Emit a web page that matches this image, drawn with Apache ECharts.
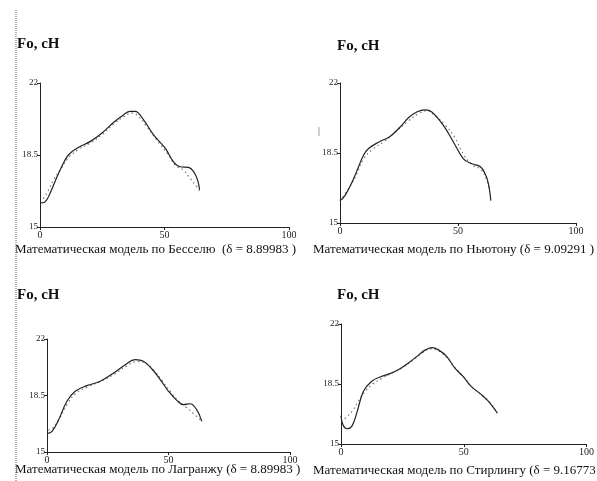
<!DOCTYPE html>
<html>
<head>
<meta charset="utf-8">
<script src="https://cdn.jsdelivr.net/npm/echarts@6/dist/echarts.min.js"></script>
<style>
html,body{margin:0;padding:0;background:#fff;}
#c{width:597px;height:481px;}
</style>
</head>
<body>
<div id="c"></div>
<script>
// ---- data ----
var xTicks = [0, 50, 100];
var yTicks = [15, 18.5, 22];
var yTickLabels = ['15', '18.5', '22'];

var titles = ['Fo, cH', 'Fo, cH', 'Fo, cH', 'Fo, cH'];
var captions = [
  'Математическая модель по Бесселю  (δ = 8.89983 )',
  'Математическая модель по Ньютону (δ = 9.09291 )',
  'Математическая модель по Лагранжу (δ = 8.89983 )',
  'Математическая модель по Стирлингу (δ = 9.16773 )'
];

// Panel 1: Bessel
var besselX      = [0, 2, 4, 6, 8.7, 11.4, 15.4, 20.1, 24.8, 29.5, 33.5, 36.2, 38.2, 41.6, 45.6, 50.3, 53.6, 56.3, 59.7, 61.7, 63.3, 64.1];
var besselSolid  = [16.17, 16.22, 16.63, 17.2, 17.93, 18.5, 18.87, 19.15, 19.56, 20.08, 20.45, 20.62, 20.62, 20.21, 19.48, 18.83, 18.17, 17.93, 17.9, 17.69, 17.28, 16.82];
var besselDotX   = [1.3, 3.4, 5.4, 8.5, 11.5, 15.5, 20.5, 25, 29.5, 33.5, 36.9, 38.9, 42.9, 46.9, 51.6, 54.3, 57.6, 60.3, 63, 64.1];
var besselDotted = [16.38, 16.79, 17.28, 17.85, 18.38, 18.78, 19.1, 19.5, 20.0, 20.35, 20.54, 20.45, 19.88, 19.23, 18.5, 18.0, 17.77, 17.36, 16.95, 16.76];

// Panel 2: Newton
var newtonX      = [0, 2.1, 5.7, 9.9, 12.0, 16.3, 21.2, 25.5, 29.0, 32.5, 36.1, 38.9, 43.8, 48.1, 52.3, 55.9, 59.4, 61.5, 62.9, 63.9];
var newtonSolid  = [16.12, 16.37, 17.2, 18.38, 18.71, 19.04, 19.33, 19.8, 20.26, 20.55, 20.66, 20.55, 19.88, 19.04, 18.21, 17.96, 17.82, 17.46, 16.96, 16.12];
var newtonDotX   = [0, 3, 6.5, 10, 14, 19, 24, 29, 33, 37, 40, 44.5, 48.5, 52.5, 56, 59.5, 62, 63.5];
var newtonDotted = [16.1, 16.6, 17.3, 18.2, 18.7, 19.1, 19.6, 20.1, 20.45, 20.62, 20.4, 19.9, 19.3, 18.4, 17.9, 17.7, 17.2, 16.6];

// Panel 3: Lagrange
var lagrangeX      = [0, 2.1, 4.8, 8.2, 11.6, 16.4, 21.9, 27.4, 32.2, 36.3, 39.7, 43.2, 46.6, 50.0, 53.4, 56.2, 58.9, 61.6, 63.7];
var lagrangeSolid  = [16.14, 16.28, 17.0, 18.14, 18.76, 19.11, 19.38, 19.89, 20.41, 20.72, 20.62, 20.14, 19.48, 18.76, 18.2, 17.93, 17.99, 17.62, 16.9];
var lagrangeDotX   = [0.5, 2.5, 5, 8.5, 12, 17, 22.5, 28, 33, 37, 40.5, 44, 47.5, 51, 54.5, 57.5, 60.5, 63.5];
var lagrangeDotted = [16.35, 16.5, 17.05, 18.0, 18.65, 19.05, 19.4, 19.85, 20.35, 20.6, 20.5, 20.05, 19.4, 18.7, 18.1, 17.75, 17.35, 16.95];

// Panel 4: Stirling
var stirlingX      = [0, 0.8, 2.4, 4.4, 6.4, 9.1, 12.4, 16.4, 19.7, 23.7, 27.7, 31.7, 34.4, 37.1, 39.7, 43.1, 46.4, 49.7, 53.1, 56.4, 59.7, 63.7];
var stirlingSolid  = [16.65, 16.12, 15.89, 16.03, 16.8, 18.06, 18.65, 18.94, 19.09, 19.36, 19.75, 20.2, 20.49, 20.62, 20.49, 20.1, 19.42, 18.94, 18.35, 17.97, 17.54, 16.8];
var stirlingDotX   = [0, 2.5, 5, 7.5, 10, 13, 17, 21, 25, 29, 33, 36.5, 39.5, 43, 46.5, 50, 53.5, 57, 60.5, 63.7];
var stirlingDotted = [16.32, 16.6, 17.0, 17.6, 18.1, 18.5, 18.85, 19.15, 19.45, 19.85, 20.3, 20.55, 20.45, 20.05, 19.45, 18.9, 18.3, 17.9, 17.45, 16.8];

// ---- layout ----
var grids = [
  {left: 40, top: 83, width: 249, height: 144},
  {left: 340, top: 83, width: 236, height: 140},
  {left: 47, top: 339, width: 243, height: 113},
  {left: 341, top: 324, width: 250, height: 120}
];
var titlePos = [[17, 46], [337, 48], [17, 297], [337, 297]];
var captionPos = [[15, 251], [313, 251], [15, 471], [313, 472]];

function pairs(xs, ys) { return xs.map(function (x, i) { return [x, ys[i]]; }); }

var solidSets = [pairs(besselX, besselSolid), pairs(newtonX, newtonSolid), pairs(lagrangeX, lagrangeSolid), pairs(stirlingX, stirlingSolid)];
var dotSets = [pairs(besselDotX, besselDotted), pairs(newtonDotX, newtonDotted), pairs(lagrangeDotX, lagrangeDotted), pairs(stirlingDotX, stirlingDotted)];

var labelFont = 'Liberation Serif';
var xAxes = [], yAxes = [], series = [], graphics = [];
grids.forEach(function (g, i) {
  xAxes.push({
    type: 'value', gridIndex: i, min: 0, max: 100, interval: 50,
    axisLine: {show: true, onZero: false, lineStyle: {color: '#222', width: 1}},
    axisTick: {show: true, length: 3, lineStyle: {color: '#222'}},
    axisLabel: {color: '#222', fontFamily: labelFont, fontSize: 10, margin: 3},
    splitLine: {show: false}
  });
  yAxes.push({
    type: 'value', gridIndex: i, min: 15, max: 22,
    axisLine: {show: true, onZero: false, lineStyle: {color: '#222', width: 1}},
    axisTick: {show: true, length: 3, customValues: yTicks, lineStyle: {color: '#222'}},
    axisLabel: {color: '#222', fontFamily: labelFont, fontSize: 9, margin: 2,
      customValues: yTicks,
      formatter: function (v) { var k = yTicks.indexOf(v); return k >= 0 ? yTickLabels[k] : ''; }},
    splitLine: {show: false}
  });
  series.push({
    type: 'line', xAxisIndex: i, yAxisIndex: i, data: dotSets[i], smooth: 0.4,
    symbol: 'none', lineStyle: {color: '#777', width: 1.2, type: [1.5, 3]}, z: 2
  });
  series.push({
    type: 'line', xAxisIndex: i, yAxisIndex: i, data: solidSets[i], smooth: 0.4,
    symbol: 'none', lineStyle: {color: '#222', width: 1.2}, z: 3
  });
  graphics.push({
    type: 'text', left: titlePos[i][0], top: titlePos[i][1] - 9,
    style: {text: titles[i], fill: '#111', font: 'bold 15px "Liberation Serif"'}
  });
  graphics.push({
    type: 'text', left: captionPos[i][0], top: captionPos[i][1] - 8,
    style: {text: captions[i], fill: '#111', font: '13px "Liberation Serif"'}
  });
});
// stray mark in second panel
graphics.push({type: 'text', left: 318, top: 126, style: {text: '|', fill: '#444', font: '10px "Liberation Serif"'}});
// dotted vertical border on the left
graphics.push({type: 'line', shape: {x1: 16, y1: 10, x2: 16, y2: 481},
  style: {stroke: '#666', lineWidth: 1, lineDash: [1, 1]}});

var chart = echarts.init(document.getElementById('c'), null, {renderer: 'canvas'});
chart.setOption({
  animation: false,
  backgroundColor: '#fff',
  grid: grids,
  xAxis: xAxes,
  yAxis: yAxes,
  series: series,
  graphic: graphics
});
</script>
</body>
</html>
